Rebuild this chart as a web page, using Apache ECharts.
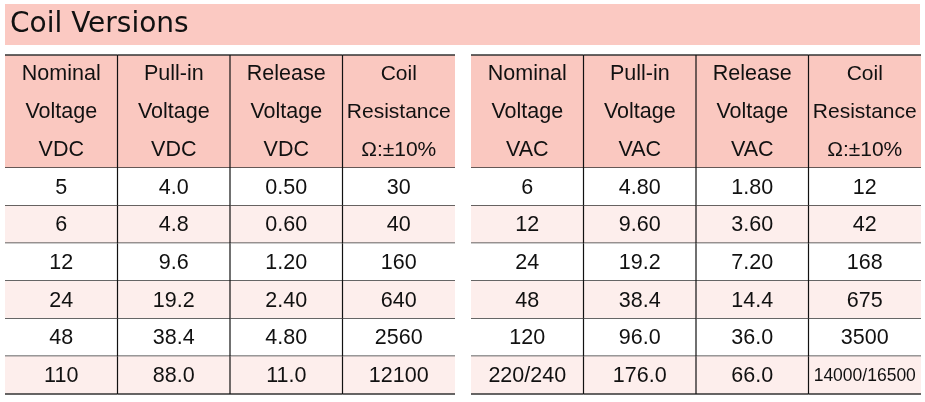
<!DOCTYPE html>
<html><head><meta charset="utf-8">
<script src="https://cdn.jsdelivr.net/npm/echarts@6/dist/echarts.min.js"></script>
<style>html,body{margin:0;padding:0;background:#fff}#c{width:925px;height:402px}</style>
</head><body><div id="c"></div>
<script>
const titleText = "Coil Versions";
const headersDC = ["Nominal\nVoltage\nVDC", "Pull-in\nVoltage\nVDC", "Release\nVoltage\nVDC", "Coil\nResistance\nΩ:±10%"];
const headersAC = ["Nominal\nVoltage\nVAC", "Pull-in\nVoltage\nVAC", "Release\nVoltage\nVAC", "Coil\nResistance\nΩ:±10%"];
const nominalDC = ["5","6","12","24","48","110"];
const pullinDC = ["4.0","4.8","9.6","19.2","38.4","88.0"];
const releaseDC = ["0.50","0.60","1.20","2.40","4.80","11.0"];
const resistDC = ["30","40","160","640","2560","12100"];
const nominalAC = ["6","12","24","48","120","220/240"];
const pullinAC = ["4.80","9.60","19.2","38.4","96.0","176.0"];
const releaseAC = ["1.80","3.60","7.20","14.4","36.0","66.0"];
const resistAC = ["12","42","168","675","3500","14000/16500"];

function build(headers, cols){
  const d = [];
  headers.forEach((h,c)=>d.push([c, 0, h, 1]));
  cols.forEach((col,c)=>col.forEach((v,r)=>d.push([c, 3+r, v, 0])));
  return d;
}
const dataDC = build(headersDC, [nominalDC,pullinDC,releaseDC,resistDC]);
const dataAC = build(headersAC, [nominalAC,pullinAC,releaseAC,resistAC]);

function renderItem(params, api){
  const c = api.value(0), r = api.value(1), hdr = api.value(3);
  const txt = dataRef[params.seriesIndex][params.dataIndex][2];
  const h = hdr ? 3 : 1;
  const p0 = api.coord([c, r]), p1 = api.coord([c+1, r+h]);
  const x=p0[0], y=p0[1], w=p1[0]-p0[0], hh=p1[1]-p0[1];
  let fill = hdr ? '#fac8c0' : (((r-3)%2===1) ? '#fdeeec' : '#ffffff');
  const small = txt.length > 8;
  const ch = [
    {type:'rect', shape:{x,y,width:w,height:hh}, style:{fill}},
    {type:'line', shape:{x1:x,y1:y+hh,x2:x+w,y2:y+hh}, style:{stroke:'#333',lineWidth:1.5}},
    {type:'text', style:{text:txt, x:x+w/2, y:y+hh/2+1, align:'center', verticalAlign:'middle',
      font: (small&&!hdr ? '17.5px' : (hdr && c===3 ? '21px' : '21.5px')) + ' "Liberation Sans", Arial, sans-serif', fill:'#111', lineHeight:38}}
  ];
  if (r===0) ch.push({type:'line', shape:{x1:x,y1:y,x2:x+w,y2:y}, style:{stroke:'#333',lineWidth:1.5}});
  if (c>0) ch.push({type:'line', shape:{x1:x,y1:y,x2:x,y2:y+hh}, style:{stroke:'#111',lineWidth:1.2}});
  return {type:'group', children:ch};
}
const dataRef = [dataDC, dataAC];
const ax = (i)=>({type:'value', min:0, max:4, gridIndex:i, show:false});
const ay = (i)=>({type:'value', min:0, max:9, inverse:true, gridIndex:i, show:false});
const chart = echarts.init(document.getElementById('c'));
chart.setOption({
  animation:false,
  graphic:[
    {type:'rect', shape:{x:5,y:4,width:915,height:41}, style:{fill:'#fbc9c2'}},
    {type:'text', style:{text:titleText, x:10, y:25, verticalAlign:'middle', font:'28px "DejaVu Sans", Verdana, sans-serif', fill:'#111'}}
  ],
  grid:[{left:5,top:55,width:450,height:339},{left:471,top:55,width:450,height:339}],
  xAxis:[ax(0),ax(1)], yAxis:[ay(0),ay(1)],
  series:[
    {type:'custom', xAxisIndex:0, yAxisIndex:0, renderItem, data:dataDC},
    {type:'custom', xAxisIndex:1, yAxisIndex:1, renderItem, data:dataAC}
  ]
});
</script></body></html>
